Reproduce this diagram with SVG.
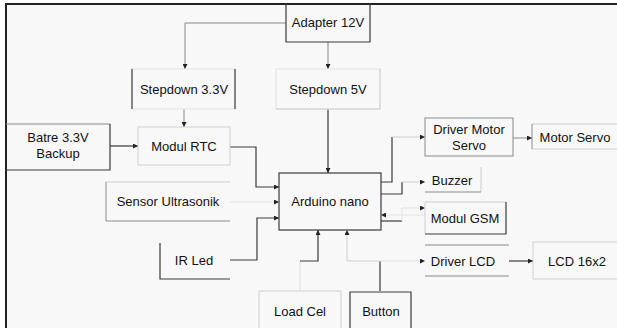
<svg xmlns="http://www.w3.org/2000/svg" width="617" height="328" viewBox="0 0 617 328">
<style>
text{font-family:"Liberation Sans",Arial,sans-serif;font-size:13px;fill:#111;text-anchor:middle}
.d{stroke:#3a3a3a;stroke-width:1.2;fill:none}
.m{stroke:#8a8a8a;stroke-width:1;fill:none}
.l{stroke:#cfcfcf;stroke-width:1;fill:none}
.f{stroke:#e2e2e2;stroke-width:1;fill:none}
</style>
<defs>
<marker id="ah" markerUnits="userSpaceOnUse" markerWidth="5" markerHeight="5" refX="5" refY="2.5" orient="auto">
<path d="M0,0 L5,2.5 L0,5 z" fill="#222"/>
</marker>
</defs>
<rect x="0" y="0" width="617" height="328" fill="#ffffff"/>
<rect x="6" y="4" width="611" height="324" fill="#f8f8f8"/>
<path d="M6,328 V4 H617" stroke="#222" stroke-width="2" fill="none"/>

<g id="connectors">
<path class="m" d="M286,23 H185 V69" marker-end="url(#ah)"/>
<path class="m" d="M328,42 V69" marker-end="url(#ah)"/>
<path class="m" d="M184,109 V127" marker-end="url(#ah)"/>
<path class="d" d="M110,146 H138" marker-end="url(#ah)"/>
<path class="d" d="M230,147 H256 V187 H279" marker-end="url(#ah)"/>
<path class="f" d="M230,202 H279" marker-end="url(#ah)"/>
<path class="d" d="M230,260 H257 V218 H279" marker-end="url(#ah)"/>
<path class="d" d="M328,109 V173" marker-end="url(#ah)"/>
<path class="f" d="M300,291 V261"/>
<path class="d" d="M300,261 H318 V230" marker-end="url(#ah)"/>
<path class="d" d="M380,291 V261"/>
<path class="l" d="M380,261 H347 V230" marker-end="url(#ah)"/>
<path class="d" d="M381,182 H392 V137"/>
<path class="l" d="M392,137 H425" marker-end="url(#ah)"/>
<path class="d" d="M381,194 H402 V182"/>
<path class="l" d="M402,182 H425" marker-end="url(#ah)"/>
<path class="d" d="M381,221 H402"/>
<path class="f" d="M402,221 V208 H425" marker-end="url(#ah)"/>
<path class="f" d="M425,215 H381" marker-end="url(#ah)"/>
<path class="f" d="M380,261 H425" marker-end="url(#ah)"/>
<path class="m" d="M513,138 H532" marker-end="url(#ah)"/>
<path class="d" d="M509,261 H533" marker-end="url(#ah)"/>
</g>

<g id="adapter">
<path class="d" d="M286,4 V42 H370 V4"/>
<text x="328" y="27">Adapter 12V</text>
</g>
<g id="stepdown33">
<path class="f" d="M132,69 H235 M132,109 H235"/>
<path class="d" d="M132,69 V109 M235,69 V109"/>
<text x="184" y="94">Stepdown 3.3V</text>
</g>
<g id="stepdown5">
<rect class="f" x="276" y="69" width="104" height="40"/>
<path class="l" d="M380,69 V109 H276"/>
<text x="328" y="94">Stepdown 5V</text>
</g>
<g id="batre">
<path class="m" d="M6,124 H110"/>
<path class="d" d="M110,124 V170 H6"/>
<text x="58" y="142">Batre 3.3V</text>
<text x="58" y="158">Backup</text>
</g>
<g id="rtc">
<rect class="l" x="138" y="127" width="92" height="38"/>
<text x="184" y="151">Modul RTC</text>
</g>
<g id="sensor">
<path class="l" d="M106,182 H230"/>
<path class="m" d="M106,182 V221 H230"/>
<text x="168" y="206">Sensor Ultrasonik</text>
</g>
<g id="irled">
<path class="d" d="M160,243 V279 H230"/>
<text x="194" y="265">IR Led</text>
</g>
<g id="arduino">
<rect class="d" x="279" y="173" width="102" height="57"/>
<text x="330" y="206">Arduino nano</text>
</g>
<g id="drivermotor">
<rect class="m" x="425" y="118" width="88" height="38"/>
<text x="469" y="134">Driver Motor</text>
<text x="469" y="150">Servo</text>
</g>
<g id="motorservo">
<path class="l" d="M532,124 H617 M532,149 H617"/>
<path class="m" d="M532,124 V149"/>
<text x="575" y="142">Motor Servo</text>
</g>
<g id="buzzer">
<path class="l" d="M481,167 V192"/>
<path class="m" d="M425,192 H481"/>
<text x="452" y="185">Buzzer</text>
</g>
<g id="gsm">
<path class="l" d="M425,234 V202 H506"/>
<path class="d" d="M506,202 V234 H425"/>
<text x="465" y="223">Modul GSM</text>
</g>
<g id="driverlcd">
<path class="m" d="M425,245 H509 M425,276 H509"/>
<text x="463" y="266">Driver LCD</text>
</g>
<g id="lcd">
<rect class="l" x="533" y="242" width="90" height="37"/>
<text x="577" y="266">LCD 16x2</text>
</g>
<g id="loadcel">
<path class="l" d="M259,328 V291 H341 V328"/>
<text x="300" y="316">Load Cel</text>
</g>
<g id="button">
<path class="d" d="M350,328 V292 H411 V328"/>
<text x="381" y="316">Button</text>
</g>
</svg>
